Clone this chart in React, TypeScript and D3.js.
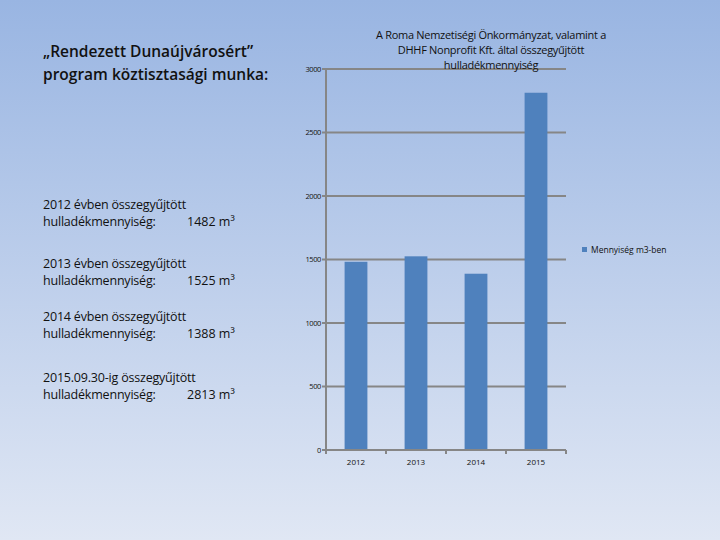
import * as d3 from "d3";
import { useEffect, useRef } from "react";

const years = ["2012", "2013", "2014", "2015"];
const amounts = [1482, 1525, 1388, 2813];
const yTicks = [0, 500, 1000, 1500, 2000, 2500, 3000];
const titleLines = [
  "A Roma Nemzetiségi Önkormányzat, valamint a",
  "DHHF Nonprofit Kft. által összegyűjtött",
  "hulladékmennyiség",
];
const seriesName = "Mennyiség m3-ben";
const headingLines = ["„Rendezett Dunaújvárosért”", "program köztisztasági munka:"];
const noteLabels = [
  "2012 évben összegyűjtött",
  "2013 évben összegyűjtött",
  "2014 évben összegyűjtött",
  "2015.09.30-ig összegyűjtött",
];

const W = 720;
const H = 540;

const App = () => {
  const ref = useRef<SVGSVGElement>(null);

  useEffect(() => {
    const svg = d3.select(ref.current);
    svg.selectAll("*").remove();

    // background gradient
    const grad = svg
      .append("defs")
      .append("linearGradient")
      .attr("id", "bg")
      .attr("x1", 0)
      .attr("y1", 0)
      .attr("x2", 0)
      .attr("y2", 1);
    grad.append("stop").attr("offset", "0%").attr("stop-color", "#99b5e2");
    grad.append("stop").attr("offset", "100%").attr("stop-color", "#e0e7f4");
    svg.append("rect").attr("width", W).attr("height", H).attr("fill", "url(#bg)");

    const font = "Open Sans, sans-serif";

    // heading
    svg
      .append("g")
      .selectAll("text")
      .data(headingLines)
      .join("text")
      .attr("x", 43)
      .attr("y", (_, i) => 57 + i * 23)
      .attr("font-family", font)
      .attr("font-size", 15.5)
      .attr("font-weight", 600)
      .attr("fill", "#111")
      .text((d) => d);

    // notes on the left
    const notes = svg.append("g");
    const noteY = [209, 268, 321, 382];
    noteLabels.forEach((lbl, i) => {
      notes
        .append("text")
        .attr("x", 43)
        .attr("y", noteY[i])
        .attr("font-family", font)
        .attr("font-size", 12.5)
        .attr("letter-spacing", -0.2)
        .attr("fill", "#111")
        .text(lbl);
      notes
        .append("text")
        .attr("x", 43)
        .attr("y", noteY[i] + 17)
        .attr("font-family", font)
        .attr("font-size", 12.5)
        .attr("letter-spacing", -0.2)
        .attr("fill", "#111")
        .text("hulladékmennyiség:");
      notes
        .append("text")
        .attr("x", 187)
        .attr("y", noteY[i] + 17)
        .attr("font-family", font)
        .attr("font-size", 12.5)
        .attr("fill", "#111")
        .text(`${amounts[i]} m³`);
    });

    // chart
    const left = 326;
    const right = 566;
    const top = 69;
    const bottom = 450;

    const x = d3.scaleBand().domain(years).range([left, right]).paddingInner(0.62).paddingOuter(0.31);
    const y = d3.scaleLinear().domain([0, 3000]).range([bottom, top]);

    const grid = svg.append("g");
    grid
      .selectAll("line")
      .data(yTicks.filter((t) => t > 0))
      .join("line")
      .attr("x1", left - 4)
      .attr("x2", right)
      .attr("y1", (d) => y(d))
      .attr("y2", (d) => y(d))
      .attr("stroke", "#868686")
      .attr("stroke-width", 2);

    grid
      .selectAll("text")
      .data(yTicks)
      .join("text")
      .attr("x", left - 5)
      .attr("y", (d) => y(d) + 2.5)
      .attr("text-anchor", "end")
      .attr("font-family", font)
      .attr("font-size", 7.5)
      .attr("letter-spacing", -0.4)
      .attr("fill", "#111")
      .text((d) => d);

    svg
      .append("g")
      .selectAll("rect")
      .data(amounts)
      .join("rect")
      .attr("x", (_, i) => x(years[i])!)
      .attr("width", x.bandwidth())
      .attr("y", (d) => y(d))
      .attr("height", (d) => y(0) - y(d))
      .attr("fill", "#4f81bd");

    // axes
    svg
      .append("line")
      .attr("x1", left)
      .attr("x2", left)
      .attr("y1", top)
      .attr("y2", bottom)
      .attr("stroke", "#868686")
      .attr("stroke-width", 2);

    const xAxis = svg
      .append("g")
      .attr("transform", `translate(0,${bottom})`)
      .call(d3.axisBottom(x).tickSize(0).tickPadding(9));
    xAxis.select(".domain").remove();
    xAxis
      .append("line")
      .attr("x1", left - 4)
      .attr("x2", right)
      .attr("stroke", "#868686")
      .attr("stroke-width", 2);
    xAxis
      .selectAll("line.sep")
      .data(d3.range(years.length + 1))
      .join("line")
      .attr("class", "sep")
      .attr("x1", (d) => left + (d * (right - left)) / years.length)
      .attr("x2", (d) => left + (d * (right - left)) / years.length)
      .attr("y1", 0)
      .attr("y2", 4)
      .attr("stroke", "#868686")
      .attr("stroke-width", 2);
    xAxis
      .selectAll(".tick text")
      .attr("font-family", font)
      .attr("font-size", 8)
      .attr("fill", "#111");

    // title
    svg
      .append("g")
      .selectAll("text")
      .data(titleLines)
      .join("text")
      .attr("x", 491)
      .attr("y", (_, i) => 39 + i * 15)
      .attr("text-anchor", "middle")
      .attr("font-family", font)
      .attr("font-size", 11)
      .attr("letter-spacing", -0.3)
      .attr("fill", "#111")
      .text((d) => d);

    // legend
    svg
      .append("rect")
      .attr("x", 582)
      .attr("y", 247)
      .attr("width", 5)
      .attr("height", 5)
      .attr("fill", "#4f81bd");
    svg
      .append("text")
      .attr("x", 591)
      .attr("y", 253)
      .attr("font-family", font)
      .attr("font-size", 8.5)
      .attr("fill", "#111")
      .text(seriesName);
  }, []);

  return (
    <svg
      ref={ref}
      width={W}
      height={H}
      style={{ position: "absolute", left: 0, top: 0, display: "block" }}
    />
  );
};

export default App;
